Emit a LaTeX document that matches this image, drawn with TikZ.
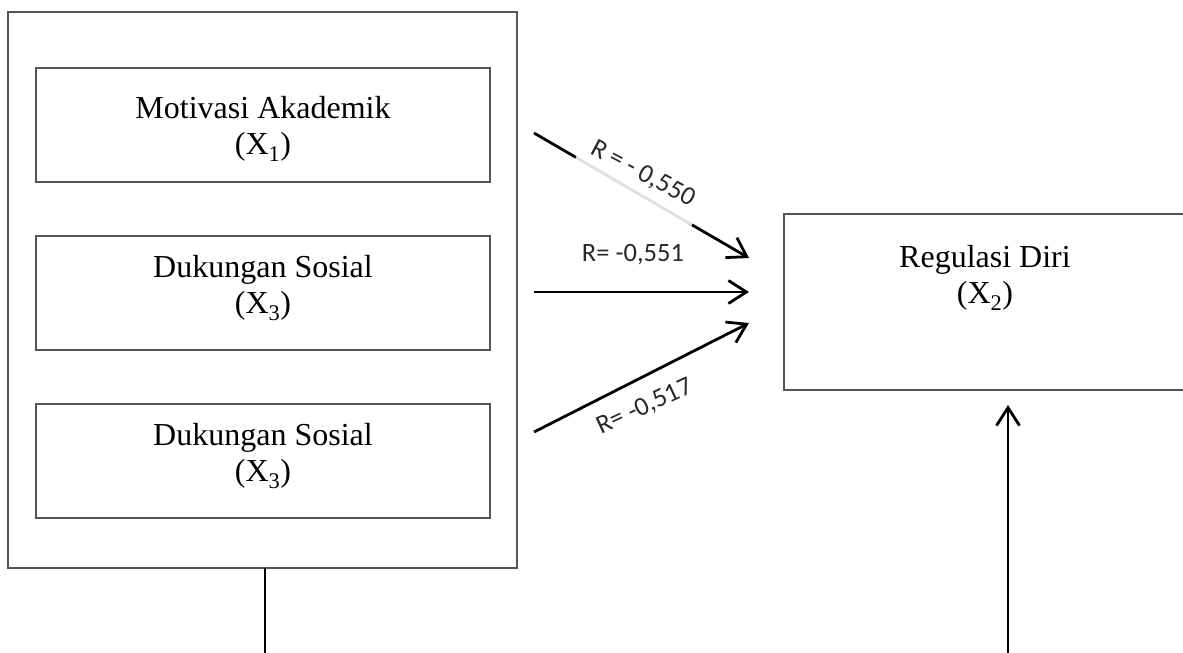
\documentclass[tikz,border=0pt]{standalone}
\usepackage{fontspec}
\setmainfont{Liberation Serif}
\newfontfamily\lblfont{Carlito}
\usetikzlibrary{arrows.meta}
\definecolor{boxgray}{RGB}{85,85,85}
\definecolor{lblcol}{RGB}{40,40,45}
\tikzset{
  frame/.style={draw=boxgray,line width=1.3pt,rectangle,inner sep=0pt,outer sep=0pt},
  boxtext/.style={align=center,font=\fontsize{32}{36.5}\selectfont,inner sep=0pt},
  conn/.style={line width=2.8pt,-{Straight Barb[length=18pt,width=23pt,line width=2.8pt]}},
  plain/.style={line width=2.4pt},
  rlabel/.style={font=\lblfont\fontsize{26.5}{29}\selectfont,text=lblcol,fill=white,fill opacity=0.88,text opacity=1,inner sep=7pt}
}
\begin{document}
\begin{tikzpicture}[x=1pt,y=-1pt]
\useasboundingbox (0,0) rectangle (1183,653);
\clip (0,0) rectangle (1183,653);
% outer box
\node[frame,minimum width=509pt,minimum height=556pt] (outer) at (262.5,290) {};
% inner boxes
\node[frame,minimum width=454pt,minimum height=114pt] (m) at (263,125) {};
\node[frame,minimum width=454pt,minimum height=114pt] (d1) at (263,293) {};
\node[frame,minimum width=454pt,minimum height=114pt] (d2) at (263,461) {};
\node[boxtext] (mt) at (263,129) {Motivasi Akademik\\(X\textsubscript{1})};
\node[boxtext] (d1t) at (263,288) {Dukungan Sosial\\(X\textsubscript{3})};
\node[boxtext] (d2t) at (263,456) {Dukungan Sosial\\(X\textsubscript{3})};
% right box
\node[frame,minimum width=402pt,minimum height=176pt] (r) at (985,302) {};
\node[boxtext] (rt) at (985,278) {Regulasi Diri\\(X\textsubscript{2})};
% arrow coordinates
\coordinate (a1s) at (534,133);
\coordinate (a1e) at (749,258);
\coordinate (a2s) at (534,292);
\coordinate (a2e) at (749,292);
\coordinate (a3s) at (534,432);
\coordinate (a3e) at (749,323);
\coordinate (vb) at (265,653);
\coordinate (us) at (1008,653);
\coordinate (ue) at (1008,405);
\draw[conn] (a1s) -- (a1e);
\draw[conn] (a2s) -- (a2e);
\draw[conn] (a3s) -- (a3e);
\draw[plain] (outer.south -| vb) -- (vb);
\draw[conn] (us) -- (ue);
% labels
\node[rlabel,rotate=-28,inner xsep=10pt,inner ysep=13pt] (l1) at (643,174) {R = - 0,550};
\node[rlabel] (l2) at (633,255) {R= -0,551};
\node[rlabel,rotate=25,fill opacity=0] (l3) at (645,407) {R= -0,517};
\end{tikzpicture}
\end{document}
